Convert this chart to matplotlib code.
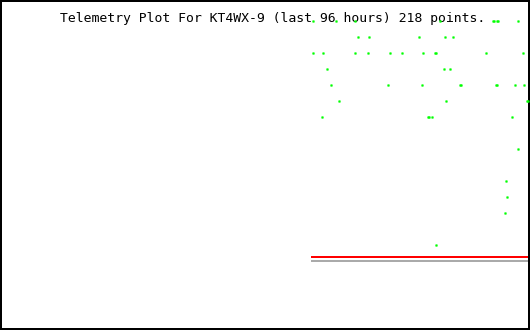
import matplotlib
matplotlib.use("Agg")
import matplotlib.pyplot as plt

# telemetry samples: index along the 218-point window, value level
sample = [1, 24, 43, 128, 181, 182, 185, 186, 206,
          46, 57, 107, 133, 141,
          1, 11, 43, 56, 78, 90, 111, 123, 124, 174, 211,
          15, 132, 138,
          19, 76, 110, 148, 149, 184, 185, 203, 212,
          27, 134, 215, 216,
          10, 116, 117, 120, 200,
          206, 194, 195, 193, 124]
level = [15] * 9 + [14] * 5 + [13] * 11 + [12] * 3 + [11] * 9 + [10] * 4 + [9] * 5 \
    + [7, 5, 4, 3, 1]

span = [-0.5, 217.5]
limit = 0.25
baseline = 0.0
title = "Telemetry Plot For KT4WX-9 (last 96 hours) 218 points."

px = 0.72  # one pixel in points at dpi 100
fig = plt.figure(figsize=(5.3, 3.3), dpi=100)
ax = fig.add_axes([0, 0, 1, 1])
ax.set_xlim(-311.5, 218.5)
ax.set_ylim(-4.3125, 16.3125)

ax.text(-251.5, 14.94, title, family="DejaVu Sans Mono", fontsize=9.45,
        va="baseline", ha="left", color="black", zorder=1)
ax.plot(span, [limit, limit], color="#ff0000", lw=2 * px, solid_capstyle="butt")
ax.plot(span, [baseline, baseline], color="#aaaaaa", lw=2 * px, solid_capstyle="butt")
ax.plot(sample, level, ls="none", marker="s", ms=1.6 * px, mew=0.5 * px,
        color="#00ff00", antialiased=False, zorder=3)

ax.set_xticks([])
ax.set_yticks([])
for s in ax.spines.values():
    s.set_linewidth(4 * px)
    s.set_color("black")

fig.savefig("out.png", dpi=100)
